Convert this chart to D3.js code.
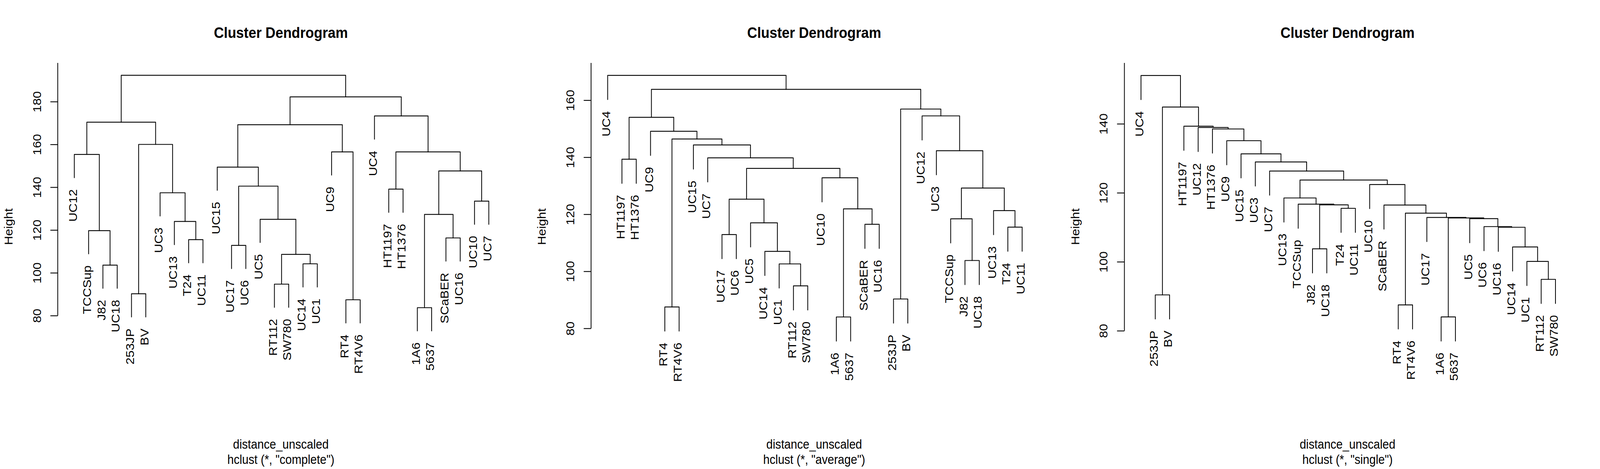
<!DOCTYPE html>
<html>
<head>
<meta charset="utf-8">
<script src="https://cdn.jsdelivr.net/npm/d3@7"></script>
<style>
  html, body { margin: 0; padding: 0; overflow: hidden; background: #fff; }
  #main svg { display: block; width: 100vw; height: 100vh; }
  text { font-family: "Liberation Sans", Arial, Helvetica, sans-serif; fill: #000; }
</style>
</head>
<body>
<div id="main"></div>
<script>
"use strict";

var methods = ["complete", "average", "single"];

// each row: [left, right, height]; a string is a leaf, a number is an earlier row
var completeMerges = [
  ["J82", "UC18", 103.6],
  ["TCCSup", 0, 119.7],
  ["UC12", 1, 155.3],
  ["253JP", "BV", 90.2],
  ["T24", "UC11", 115.5],
  ["UC13", 4, 124.0],
  ["UC3", 5, 137.4],
  [3, 6, 160.0],
  [2, 7, 170.4],
  ["UC17", "UC6", 112.8],
  ["RT112", "SW780", 94.7],
  ["UC14", "UC1", 104.2],
  [10, 11, 108.6],
  ["UC5", 12, 125.0],
  [9, 13, 140.5],
  ["UC15", 14, 149.4],
  ["RT4", "RT4V6", 87.4],
  ["UC9", 16, 156.5],
  [15, 17, 169.2],
  ["HT1197", "HT1376", 139.1],
  ["1A6", "5637", 83.7],
  ["SCaBER", "UC16", 116.3],
  [20, 21, 127.3],
  ["UC10", "UC7", 133.5],
  [22, 23, 147.6],
  [19, 24, 156.5],
  ["UC4", 25, 173.3],
  [18, 26, 182.2],
  [8, 27, 192.3]
];

var averageMerges = [
  ["HT1197", "HT1376", 139.3],
  ["RT4", "RT4V6", 87.5],
  ["UC17", "UC6", 112.9],
  ["RT112", "SW780", 94.9],
  ["UC1", 3, 102.6],
  ["UC14", 4, 107.0],
  ["UC5", 5, 117.0],
  [2, 6, 125.3],
  ["1A6", "5637", 84.0],
  ["SCaBER", "UC16", 116.5],
  [8, 9, 121.9],
  ["UC10", 10, 132.8],
  [7, 11, 136.1],
  ["UC7", 12, 139.8],
  ["UC15", 13, 144.3],
  [1, 14, 146.4],
  ["UC9", 15, 149.1],
  [0, 16, 154.0],
  ["253JP", "BV", 90.3],
  ["J82", "UC18", 103.8],
  ["TCCSup", 19, 118.4],
  ["T24", "UC11", 115.5],
  ["UC13", 21, 121.3],
  [20, 22, 129.2],
  ["UC3", 23, 142.3],
  ["UC12", 24, 154.5],
  [18, 25, 156.9],
  [17, 26, 163.8],
  ["UC4", 27, 168.7]
];

var singleMerges = [
  ["253JP", "BV", 90.4],
  ["J82", "UC18", 103.75],
  ["T24", "UC11", 115.5],
  [1, 2, 116.5],
  ["TCCSup", 3, 116.7],
  ["UC13", 4, 118.5],
  ["RT4", "RT4V6", 87.5],
  ["1A6", "5637", 84.0],
  ["RT112", "SW780", 94.9],
  ["UC1", 8, 100.1],
  ["UC14", 9, 104.3],
  ["UC16", 10, 110.0],
  ["UC6", 11, 110.2],
  ["UC5", 12, 112.5],
  [7, 13, 112.7],
  ["UC17", 14, 112.85],
  [6, 15, 114.1],
  ["SCaBER", 16, 116.45],
  ["UC10", 17, 122.4],
  [5, 18, 123.7],
  ["UC7", 19, 126.3],
  ["UC3", 20, 128.95],
  ["UC15", 21, 131.3],
  ["UC9", 22, 135.1],
  ["HT1376", 23, 138.5],
  ["UC12", 24, 138.95],
  ["HT1197", 25, 139.3],
  [0, 26, 144.85],
  ["UC4", 27, 154.0]
];

var heightTicks = [
  [80, 100, 120, 140, 160, 180],
  [80, 100, 120, 140, 160],
  [80, 100, 120, 140]
];
// height shown at the bottom and at the top of each plot region
var heightLimits = [
  [44.84, 198.08],
  [58.10, 173.07],
  [62.58, 157.65]
];
var hangFraction = 0.1;

var DG = {
  w: 4500,
  h: 1200,
  panelW: 1500,
  left: 162.4,
  right: 1421.4,
  top: 161,
  bottom: 1000,
  svg: null,
  init: function() {
    this.svg = d3.select("#main").append("svg")
      .attr("viewBox", "0 0 " + DG.w + " " + DG.h)
      .attr("preserveAspectRatio", "none");
    this.svg.append("rect")
      .attr("width", DG.w)
      .attr("height", DG.h)
      .attr("fill", "#ffffff");
    var all = [completeMerges, averageMerges, singleMerges];
    all.forEach(function(merges, i) {
      var g = DG.svg.append("g").attr("transform", "translate(" + (i * DG.panelW) + ",0)");
      DG.drawPanel(g, merges, heightTicks[i], heightLimits[i], methods[i]);
    });
  },
  drawPanel: function(g, merges, ticks, lim, method) {
    var heights = merges.map(function(m) { return m[2]; });
    var hang = hangFraction * (d3.max(heights) - d3.min(heights));

    var order = [];
    var walk = function(k) {
      if (typeof k === "string") {
        order.push(k);
      } else {
        walk(merges[k][0]);
        walk(merges[k][1]);
      }
    };
    walk(merges.length - 1);

    var n = order.length;
    var pad = 0.04 * (n - 1);
    var x = d3.scaleLinear().domain([1 - pad, n + pad]).range([DG.left, DG.right]);
    var y = d3.scaleLinear().domain(lim).range([DG.bottom, DG.top]);

    var leafIndex = new Map(order.map(function(d, i) { return [d, i + 1]; }));
    var nodeX = [];
    var xOf = function(k) {
      return typeof k === "string" ? x(leafIndex.get(k)) : nodeX[k];
    };
    var hOf = function(k, parentH) {
      return typeof k === "string" ? parentH - hang : merges[k][2];
    };
    merges.forEach(function(m, i) {
      nodeX[i] = (xOf(m[0]) + xOf(m[1])) / 2;
    });

    // branches
    g.selectAll("path.link").data(merges).join("path")
      .attr("class", "link")
      .attr("d", function(m) {
        return "M" + xOf(m[0]) + "," + y(hOf(m[0], m[2])) +
          "V" + y(m[2]) + "H" + xOf(m[1]) + "V" + y(hOf(m[1], m[2]));
      })
      .attr("fill", "none")
      .attr("stroke", "#000")
      .attr("stroke-width", 2.2)
      .attr("stroke-linecap", "round")
      .attr("stroke-linejoin", "round");

    // leaf labels
    var leaves = [];
    merges.forEach(function(m) {
      [m[0], m[1]].forEach(function(k) {
        if (typeof k === "string") leaves.push({ name: k, h: m[2] - hang });
      });
    });
    g.selectAll("text.leaf").data(leaves).join("text")
      .attr("class", "leaf")
      .attr("transform", function(d) {
        return "translate(" + (x(leafIndex.get(d.name)) + 7) + "," + (y(d.h) + 29.5) + ") rotate(-90)";
      })
      .attr("text-anchor", "end")
      .attr("font-size", 32.5)
      .text(function(d) { return d.name; });

    // height axis
    var axis = d3.axisLeft(y).tickValues(ticks).tickSize(20.7).tickFormat(d3.format("d"));
    var ag = g.append("g").attr("transform", "translate(" + DG.left + ",0)").call(axis);
    ag.select(".domain").remove();
    ag.selectAll(".tick line").attr("stroke", "#000").attr("stroke-width", 2.2);
    ag.selectAll(".tick text")
      .attr("x", null)
      .attr("dy", null)
      .attr("text-anchor", "middle")
      .attr("font-size", 32.5)
      .attr("font-family", "Liberation Sans, Arial, sans-serif")
      .attr("fill", "#000")
      .attr("transform", "translate(" + (115 - DG.left) + ",0) rotate(-90)");
    ag.append("line")
      .attr("x1", 0).attr("x2", 0)
      .attr("y1", y(ticks[0]))
      .attr("y2", DG.top)
      .attr("stroke", "#000")
      .attr("stroke-width", 2.2);

    var cx = (DG.left + DG.right) / 2 - 2;
    g.append("text")
      .attr("x", cx).attr("y", 97)
      .attr("text-anchor", "middle")
      .attr("font-size", 39)
      .attr("font-weight", "bold")
      .text("Cluster Dendrogram");
    g.append("text")
      .attr("transform", "translate(35,580) rotate(-90)")
      .attr("text-anchor", "middle")
      .attr("font-size", 32.5)
      .text("Height");
    g.append("text")
      .attr("x", cx).attr("y", 1148)
      .attr("text-anchor", "middle")
      .attr("font-size", 32.5)
      .text("distance_unscaled");
    g.append("text")
      .attr("x", cx).attr("y", 1187)
      .attr("text-anchor", "middle")
      .attr("font-size", 32.5)
      .text("hclust (*, \"" + method + "\")");
  }
};

DG.init();
</script>
</body>
</html>
